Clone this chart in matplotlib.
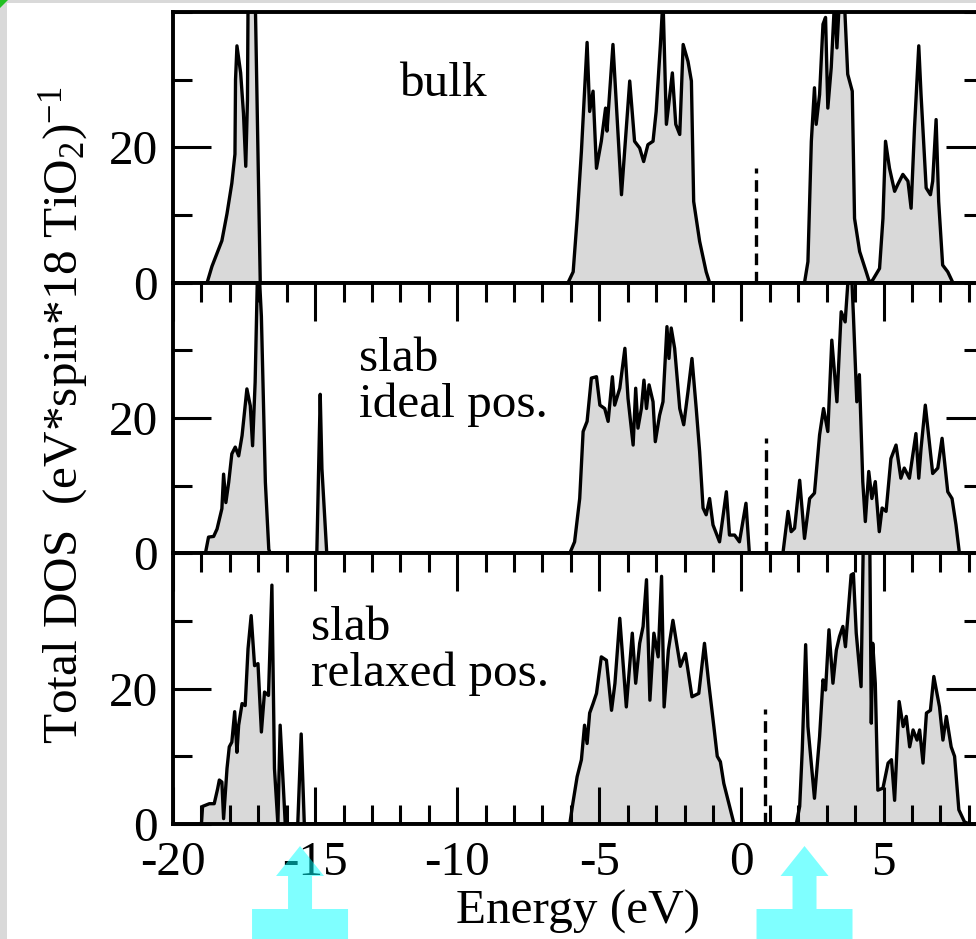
import numpy as np
import matplotlib
matplotlib.use("Agg")
import matplotlib.pyplot as plt
from matplotlib.patches import Polygon, Rectangle
from matplotlib.ticker import MultipleLocator

plt.rcParams['font.family'] = ['Liberation Serif', 'DejaVu Serif']
plt.rcParams['mathtext.fontset'] = 'custom'
plt.rcParams['mathtext.rm'] = 'Liberation Serif'
plt.rcParams['mathtext.it'] = 'Liberation Serif:italic'
plt.rcParams['axes.unicode_minus'] = False

# ---- data (energy in eV, DOS in states/eV) ----
e_bulk = [-20.0, -18.8, -18.63, -18.28, -18.1, -17.93, -17.82, -17.8, -17.75, -17.62, -17.52, -17.44, -17.38, -17.34, -17.16, -16.93,
          -6.10, -5.92, -5.78, -5.63, -5.43, -5.34, -5.22, -5.10, -4.93, -4.78, -4.73, -4.52, -4.22, -4.11, -3.93, -3.76, -3.58,
          -3.44, -3.29, -3.11, -3.00, -2.85, -2.76, -2.64, -2.43, -2.31, -2.17, -2.05, -1.88, -1.76, -1.68, -1.47, -1.24, -1.12,
          2.22, 2.34, 2.46, 2.57, 2.63, 2.75, 2.87, 2.96, 3.04, 3.16, 3.28, 3.36, 3.45, 3.63, 3.74, 3.90, 3.98, 4.16, 4.39, 4.51,
          4.62, 4.86, 4.98, 5.07, 5.21, 5.39, 5.50, 5.68, 5.86, 5.97, 6.09, 6.24, 6.32, 6.50, 6.65, 6.73, 6.85, 6.94, 7.08, 7.26,
          7.44, 8.5]
dos_bulk = [0, 0, 2.4, 6.2, 10.2, 14.7, 19, 30, 35, 31, 25, 17.2, 27, 55, 55, 0,
            0, 1.6, 9.5, 19.4, 35.5, 25.3, 28.3, 16.9, 20.9, 25.8, 22.4, 35.2, 13.0, 19.4, 29.8, 20.9, 19.9,
            17.9, 20.4, 20.9, 25.3, 35.2, 42, 23.4, 31.0, 23.4, 21.9, 35.2, 32.7, 29.8, 12.0, 6.1, 1.6, 0,
            0, 3.1, 20.9, 28.8, 23.4, 27.8, 38.2, 39.2, 25.8, 31.8, 42, 34.7, 42, 41, 30.8, 28.3, 9.5, 4.6, 1.6, 0,
            0.4, 2.1, 9.5, 20.9, 16.9, 13.5, 14.5, 16.0, 15.0, 11.0, 22.9, 35.0, 27.8, 14.0, 13.0, 15.0, 24.1, 12.0, 2.6, 1.6,
            0, 0]

e_ideal = [-20.0, -18.86, -18.75, -18.57, -18.45, -18.28, -18.22, -18.14, -18.04, -17.93, -17.81, -17.69, -17.57, -17.4,
           -17.28, -17.2, -17.11, -17.01, -16.89, -16.75, -16.63, -16.58,
           -14.94, -14.82, -14.76, -14.59,
           -6.04, -5.87, -5.69, -5.57, -5.43, -5.28, -5.10, -4.98, -4.81, -4.69, -4.54, -4.46, -4.28, -4.10, -3.99, -3.81,
           -3.72, -3.64, -3.52, -3.43, -3.34, -3.25, -3.11, -3.03, -2.88, -2.76, -2.62, -2.55, -2.47, -2.35, -2.17, -2.03,
           -1.88, -1.74, -1.59, -1.47, -1.35, -1.24, -1.12, -1.0, -0.77, -0.53, -0.42, -0.24, -0.07, 0.16, 0.28,
           1.46, 1.64, 1.75, 1.87, 2.05, 2.22, 2.40, 2.57, 2.75, 2.89, 3.04, 3.18, 3.36, 3.51, 3.65, 3.74, 3.86, 3.94, 4.06,
           4.15, 4.27, 4.36, 4.48, 4.59, 4.71, 4.85, 4.95, 5.09, 5.26, 5.44, 5.61, 5.73, 5.91, 6.14, 6.24, 6.32, 6.47, 6.61,
           6.73, 6.91, 7.06, 7.26, 7.41, 7.55, 7.67, 8.5]
dos_ideal = [0, 0, 2.4, 2.5, 3.6, 6.6, 11.7, 7.5, 10.5, 14.7, 15.7, 14.4, 17.4, 24.3,
             21.8, 15.9, 25.3, 45, 35, 10.5, 0.6, 0,
             0, 23.5, 12.5, 0,
             0, 1.7, 8.1, 18.0, 19.5, 25.9, 26.1, 21.9, 21.4, 19.5, 26.1, 21.9, 24.4, 30.3, 22.9, 16.0,
             24.4, 18.5, 21.4, 25.6, 21.4, 24.9, 22.4, 16.5, 20.4, 22.4, 33.5, 28.8, 33.3, 30.3, 21.4, 19.0,
             23.9, 28.8, 21.4, 15.0, 6.7, 5.7, 8.1, 4.2, 1.7, 9.1, 2.7, 2.7, 1.7, 7.4, 0,
             0, 6.2, 3.2, 3.7, 10.8, 2.2, 8.1, 8.9, 17.5, 21.4, 18.0, 31.5, 22.4, 35.7, 34.2, 39.7, 43, 35.2, 22.4,
             26.4, 10.6, 4.7, 12.1, 8.1, 10.6, 3.2, 6.7, 6.2, 14.0, 16.0, 11.1, 12.6, 11.1, 17.7, 11.1, 15.5, 21.9, 16.5,
             11.8, 12.6, 17.0, 9.1, 8.1, 4.2, 0, 0]

e_relaxed = [-20.0, -19.0, -18.96, -18.72, -18.55, -18.43, -18.37, -18.28, -18.22, -18.10, -18.02, -17.93, -17.83,
             -17.75, -17.69, -17.57, -17.46, -17.36, -17.25, -17.13, -17.01, -16.89, -16.78, -16.64, -16.52, -16.43,
             -16.31, -16.23, -16.05, -15.61, -15.49, -15.38,
             -6.04, -5.93, -5.78, -5.63, -5.52, -5.43, -5.34, -5.22, -5.10, -4.93, -4.75, -4.57, -4.45, -4.28, -4.05,
             -3.84, -3.72, -3.58, -3.46, -3.34, -3.22, -3.08, -2.93, -2.81, -2.72, -2.57, -2.41, -2.15, -1.97, -1.74,
             -1.50, -1.30, -1.15, -0.97, -0.85, -0.74, -0.62, -0.26,
             1.93, 2.05, 2.14, 2.26, 2.34, 2.57, 2.75, 2.87, 2.96, 3.08, 3.22, 3.34, 3.45, 3.57, 3.66, 3.86, 3.94, 4.04,
             4.21, 4.30, 4.39, 4.51, 4.57, 4.62, 4.71, 4.80, 4.98, 5.16, 5.28, 5.39, 5.55, 5.69, 5.80, 5.92, 6.04, 6.18,
             6.27, 6.39, 6.51, 6.65, 6.77, 6.88, 6.97, 7.09, 7.21, 7.38, 7.50, 7.65, 7.85, 8.03, 8.5]
dos_relaxed = [0, 0, 2.6, 3.0, 3.0, 5.2, 6.5, 6.2, 0.8, 8.2, 11.4, 12.1, 16.6,
               10.6, 14.6, 17.8, 17.5, 25.9, 30.8, 23.4, 23.7, 13.6, 19.5, 19.0, 35.3, 8.2,
               0, 14.6, 0, 0, 13.3, 0,
               0, 3.1, 7.0, 9.5, 14.6, 11.9, 16.4, 17.8, 19.3, 24.7, 24.2, 16.8, 20.8, 30.4, 17.3,
               28.2, 20.8, 26.7, 29.2, 36.1, 18.3, 28.2, 24.7, 36.6, 17.3, 25.7, 30.1, 23.3, 25.2, 18.8,
               19.3, 26.7, 20.8, 14.4, 10.0, 9.2, 6.0, 0,
               0, 2.6, 10.9, 26.5, 14.4, 3.8, 12.9, 21.3, 19.8, 28.7, 20.8, 25.7, 27.7, 29.2, 26.2, 36.8, 37.0, 28.2,
               20.3, 45, 45, 45, 14.9, 26.7, 20.8, 5.0, 5.3, 9.0, 9.5, 3.5, 18.1, 14.4, 15.9, 11.4, 13.9, 12.4,
               13.9, 9.0, 16.4, 16.8, 21.8, 19.3, 17.3, 12.4, 15.9, 11.4, 10.0, 2.1, 0.3, 0, 0]

fermi = [0.52, 0.88, 0.82]      # dashed lines
fermi_height = 17
labels = ['bulk', 'slab\nideal pos.', 'slab\nrelaxed pos.']
label_pos = [(-10.5, 29.3, 'center', 'center'), (-13.45, 32.0, 'left', 'top'), (-15.15, 32.2, 'left', 'top')]
arrow_E = [-15.53, 2.22]        # cyan arrows below the axis

energies = [e_bulk, e_ideal, e_relaxed]
doses = [dos_bulk, dos_ideal, dos_relaxed]

W, H = 976, 939
fig = plt.figure(figsize=(W / 100, H / 100), dpi=100)
fig.patch.set_facecolor('#d9d9d9')
fig.add_artist(Rectangle((7 / W, 0), 1, 1 - 3 / H, transform=fig.transFigure,
                         facecolor='white', edgecolor='none', zorder=-5))
fig.add_artist(Polygon([(0, 1), (8 / W, 1), (0, 1 - 8 / H)], closed=True, transform=fig.transFigure,
                       facecolor='#22c022', edgecolor='none'))

gs = fig.add_gridspec(3, 1, left=173 / W, right=983 / W, top=1 - 12 / H, bottom=1 - 824 / H, hspace=0)
axes = [fig.add_subplot(gs[i]) for i in range(3)]

fs = 35.5
for i, ax in enumerate(axes):
    E = np.array(energies[i])
    D = np.array(doses[i])
    ax.fill_between(E, 0, D, color='#d9d9d9', lw=0)
    ax.plot(E, D, color='black', lw=2.4)
    ax.plot([fermi[i], fermi[i]], [0, fermi_height], color='black', lw=2.4, ls=(0, (3.5, 2)))
    ax.set_xlim(-20, 8.5)
    ax.set_ylim(0, 40)
    for s in ax.spines.values():
        s.set_linewidth(2.8)
    ax.yaxis.set_major_locator(MultipleLocator(20))
    ax.yaxis.set_minor_locator(MultipleLocator(10))
    ax.xaxis.set_major_locator(MultipleLocator(5))
    ax.xaxis.set_minor_locator(MultipleLocator(1))
    ax.set_yticks([0, 20])
    ax.set_yticklabels(['0', '20'])
    ax.tick_params(axis='y', which='both', direction='in', left=True, right=True, width=2.2,
                   labelsize=fs, pad=11)
    ax.tick_params(axis='y', which='major', length=27)
    ax.tick_params(axis='y', which='minor', length=14)
    ax.tick_params(axis='x', which='both', direction='in', width=2.2, labelsize=fs, pad=12,
                   top=(i > 0), bottom=(i == 2), labelbottom=(i == 2))
    ax.tick_params(axis='x', which='major', length=27)
    ax.tick_params(axis='x', which='minor', length=14)
    x, y, ha, va = label_pos[i]
    ax.text(x, y, labels[i], fontsize=fs, ha=ha, va=va, linespacing=1.05)

axes[2].set_xticks([-20, -15, -10, -5, 0, 5])
axes[2].set_xticklabels(['-20', '-15', '-10', '-5', '0', '5'])

fig.text(578 / W, 1 - 912 / H, 'Energy (eV)', fontsize=fs, ha='center', va='center')
fig.text(64 / W, 1 - 415 / H, r'Total DOS  (eV$*$spin$*$18 TiO$_2$)$^{-1}$', fontsize=fs,
         rotation=90, ha='center', va='center')

# cyan arrows drawn over the tick labels
fig.canvas.draw()
for e in arrow_E:
    xt = fig.transFigure.inverted().transform(axes[2].transData.transform((e, 0)))[0] * W
    shape = [(0, 846), (-24, 876), (-12, 876), (-12, 909), (-48, 909), (-48, 939),
             (48, 939), (48, 909), (12, 909), (12, 876), (24, 876)]
    pts = [((xt + dx) / W, 1 - py / H) for dx, py in shape]
    fig.add_artist(Polygon(pts, closed=True, transform=fig.transFigure,
                           facecolor='cyan', alpha=0.5, edgecolor='none'))

fig.savefig('out.png', dpi=100, facecolor=fig.get_facecolor())
